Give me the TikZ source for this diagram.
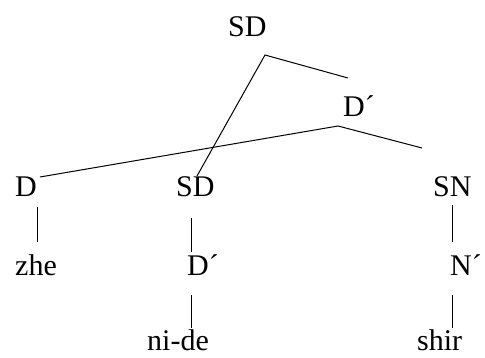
\documentclass[tikz,border=0pt]{standalone}
\usepackage{fontspec}
\setmainfont{Liberation Serif}
\begin{document}
\begin{tikzpicture}[x=1pt,y=-1pt,
  lbl/.style={anchor=base west,inner sep=0pt,font=\fontsize{30}{33}\selectfont},
  edge/.style={draw=black,line width=1pt}]
\useasboundingbox (0,0) rectangle (485,358);
% labels
\node[lbl] (sdtop) at (228,37) {SD};
\node[lbl] (dbar) at (343,117) {D´};
\node[lbl] (d) at (15,197) {D};
\node[lbl] (sdlow) at (176,197) {SD};
\node[lbl] (sn) at (433,197) {SN};
\node[lbl] (zhe) at (15,276) {zhe};
\node[lbl] (dbarlow) at (187,276) {D´};
\node[lbl] (nbar) at (450,276) {N´};
\node[lbl] (nide) at (147,351) {ni-de};
\node[lbl] (shir) at (417,351) {shir};
% connector end points
\coordinate (a1) at (265,55);
\coordinate (a2) at (348,78);
\coordinate (a3) at (197,176);
\coordinate (b1) at (338,126);
\coordinate (b2) at (40,177);
\coordinate (b3) at (422,148);
\coordinate (c1) at (37,207);  \coordinate (c2) at (37,242);
\coordinate (e1) at (191,218); \coordinate (e2) at (191,252);
\coordinate (f1) at (191,295); \coordinate (f2) at (191,328);
\coordinate (g1) at (452,205); \coordinate (g2) at (452,242);
\coordinate (h1) at (452,295); \coordinate (h2) at (452,328);
% connectors
\draw[edge] (a2) -- (a1) -- (a3);
\draw[edge] (b2) -- (b1) -- (b3);
\draw[edge] (c1) -- (c2);
\draw[edge] (e1) -- (e2);
\draw[edge] (f1) -- (f2);
\draw[edge] (g1) -- (g2);
\draw[edge] (h1) -- (h2);
\end{tikzpicture}
\end{document}
